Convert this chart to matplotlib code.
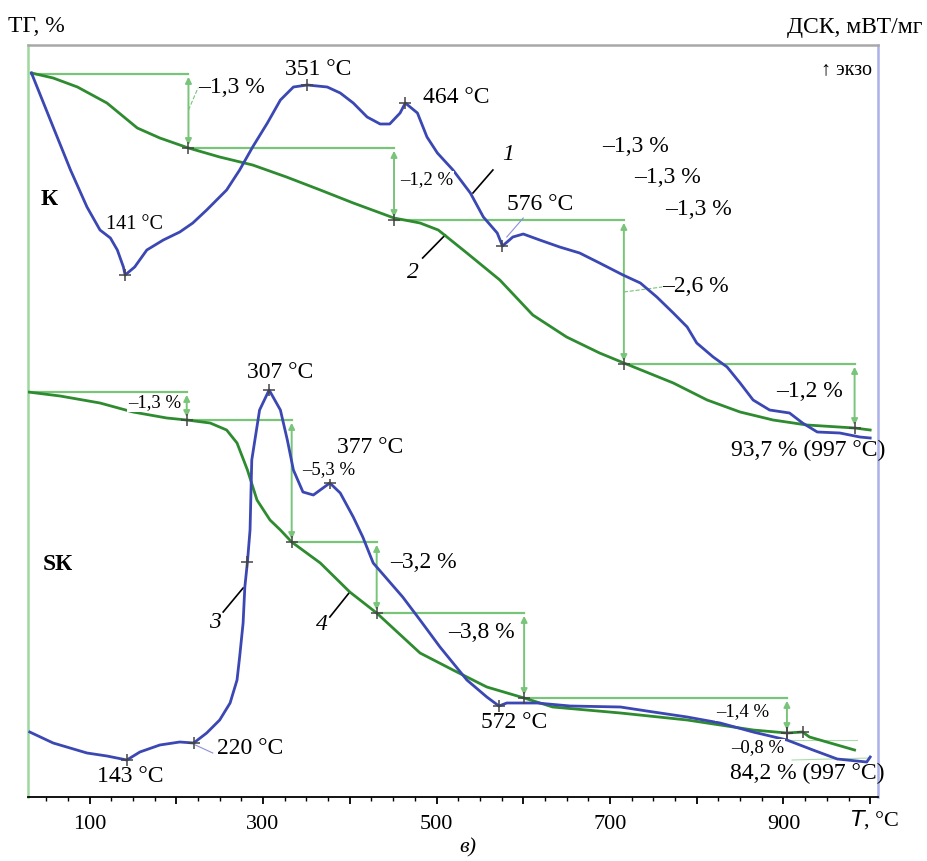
import matplotlib
matplotlib.use('Agg')
import matplotlib.pyplot as plt
from matplotlib.ticker import MultipleLocator, FixedLocator

plt.rcParams['font.family'] = ['Liberation Serif', 'DejaVu Serif']

# y has no scale on the original chart: relative units (0 = bottom axis)
# sample K, DSC (curve 1)
k_dsc_t = [33, 58, 78, 97, 112, 124, 132, 139, 141, 152, 166, 185, 204, 219, 235, 258, 273, 288, 305, 320,
           335, 351, 374, 389, 404, 420, 435, 446, 458, 464, 478, 489, 501, 519, 539, 554, 570, 576, 588, 600,
           619, 642, 665, 688, 715, 735, 754, 773, 789, 800, 819, 835, 850, 865, 884, 907, 922, 939, 965, 988, 1000]
k_dsc_y = [727, 673, 630, 593, 570, 562, 550, 533, 525, 533, 550, 560, 568, 577, 590, 610, 630, 653, 677, 700,
           713, 715, 713, 707, 697, 683, 676, 676, 687, 697, 687, 663, 647, 630, 607, 583, 567, 554, 563, 566,
           560, 553, 547, 537, 525, 517, 503, 487, 473, 457, 443, 433, 417, 400, 390, 387, 377, 368, 367, 363, 362]

# sample K, TG (curve 2)
k_tg_t = [33, 58, 86, 120, 155, 181, 214, 250, 288, 327, 366, 404, 451, 481, 502, 535, 573, 611, 650, 688,
          716, 773, 812, 850, 888, 927, 982, 1000]
k_tg_y = [727, 722, 713, 697, 672, 662, 652, 643, 635, 623, 610, 597, 582, 577, 570, 547, 520, 485, 463, 447,
          437, 417, 400, 388, 380, 375, 372, 370]

# sample SK, DSC (curve 3)
sk_dsc_t = [31, 58, 97, 120, 143, 158, 181, 204, 220, 235, 250, 262, 270, 273, 277, 279, 282, 285, 287, 296,
            307, 320, 328, 335, 346, 358, 377, 389, 404, 415, 427, 461, 481, 504, 535, 558, 572, 581, 616, 654,
            712, 750, 789, 827, 865, 904, 934, 962, 996, 1000]
sk_dsc_y = [68, 57, 47, 44, 40, 48, 55, 58, 57, 67, 80, 97, 120, 143, 177, 213, 238, 270, 340, 390,
            410, 390, 360, 330, 308, 305, 317, 307, 283, 263, 237, 203, 180, 153, 120, 103, 94, 97, 97, 94,
            93, 88, 83, 77, 68, 60, 50, 41, 38, 43]

# sample SK, TG (curve 4)
sk_tg_t = [29, 66, 112, 150, 189, 212, 239, 258, 270, 282, 293, 308, 320, 333, 366, 400, 431, 461, 481, 519,
           558, 601, 634, 712, 789, 865, 904, 922, 930, 982]
sk_tg_y = [408, 404, 397, 388, 382, 380, 377, 370, 357, 330, 300, 280, 270, 258, 237, 208, 187, 163, 147, 130,
           113, 102, 93, 87, 80, 70, 67, 68, 63, 50]

# mass-loss steps (TG levels)
k_step_t = [33, 214, 451, 716, 982]
k_step_y = [726, 652, 580, 436, 372]
sk_step_t = [29, 212, 333, 431, 601, 904]
sk_step_y = [408, 380, 258, 187, 102, 67]

# marked peaks on DSC curves
k_peak_t = [141, 351, 464, 576]
k_peak_y = [525, 715, 697, 554]
sk_peak_t = [143, 220, 282, 307, 377, 572]
sk_peak_y = [40, 57, 238, 410, 317, 94]
sk_tg_mark_t = [904, 922]
sk_tg_mark_y = [67, 68]

BLUE = '#3b47b3'
GREEN = '#2e8b30'
LGREEN = '#78c478'
MARK = '#444444'

fig = plt.figure(figsize=(9.28, 8.61), dpi=100)
ax = fig.add_axes([28 / 928, 1 - 797 / 861, 850 / 928, 752 / 861])
ax.set_xlim(29, 1009)
ax.set_ylim(3, 755)


def steps(ts, ys):
    for i in range(len(ts) - 1):
        ax.plot([ts[i], ts[i + 1]], [ys[i], ys[i]], color=LGREEN, lw=1.6, zorder=2)
        ax.annotate('', xy=(ts[i + 1], ys[i]), xytext=(ts[i + 1], ys[i + 1]),
                    arrowprops=dict(arrowstyle='<|-|>', color=LGREEN, lw=1.4,
                                    shrinkA=2, shrinkB=2, mutation_scale=9), zorder=2)


steps(k_step_t, k_step_y)
steps(sk_step_t, sk_step_y)
# faint end lines of SK
ax.plot([907, 985], [60, 60], color=LGREEN, lw=0.8, alpha=0.6)
ax.plot([910, 1000], [40, 42], color=LGREEN, lw=0.8, alpha=0.6)

ax.plot(k_tg_t, k_tg_y, color=GREEN, lw=2, zorder=3)
ax.plot(sk_tg_t, sk_tg_y, color=GREEN, lw=2, zorder=3)
ax.plot(k_dsc_t, k_dsc_y, color=BLUE, lw=2, zorder=4)
ax.plot(sk_dsc_t, sk_dsc_y, color=BLUE, lw=2, zorder=4)

# markers
mk = dict(ls='none', marker='+', color=MARK, ms=9, mew=1.1, zorder=5)
ax.plot(k_peak_t, k_peak_y, **mk)
ax.plot(sk_peak_t, sk_peak_y, **mk)
ax.plot(k_step_t[1:], k_step_y[1:], **mk)
ax.plot(sk_step_t[1:], sk_step_y[1:], **mk)
ax.plot(sk_tg_mark_t, sk_tg_mark_y, **mk)

BIG = 17
SMALL = 13.5
wb = dict(facecolor='white', edgecolor='none', pad=0.5)

# temperatures
ax.text(364, 730, '351 °C', fontsize=BIG, ha='center', va='center')
ax.text(484, 702, '464 °C', fontsize=BIG, ha='left', va='center')
ax.text(152, 575, '141 °C', fontsize=SMALL + 1, ha='center', va='center')
ax.text(619, 595, '576 °C', fontsize=BIG, ha='center', va='center')
ax.plot([581, 600], [563, 582], color='#8a90d8', lw=0.8)
ax.text(320, 427, '307 °C', fontsize=BIG, ha='center', va='center')
ax.text(423, 352, '377 °C', fontsize=BIG, ha='center', va='center')
ax.text(147, 23, '143 °C', fontsize=BIG, ha='center', va='center')
ax.text(247, 52, '220 °C', fontsize=BIG, ha='left', va='center')
ax.plot([222, 242], [55, 47], color='#8a90d8', lw=0.8)
ax.text(590, 78, '572 °C', fontsize=BIG, ha='center', va='center')

# mass losses
ax.text(225, 712, '–1,3 %', fontsize=BIG, ha='left', va='center')
ax.plot([214, 225], [690, 712], color=LGREEN, lw=0.8, ls='--')
ax.text(458, 620, '–1,2 %', fontsize=SMALL, ha='left', va='center', bbox=wb, zorder=6)
ax.text(760, 513, '–2,6 %', fontsize=BIG, ha='left', va='center')
ax.plot([716, 760], [508, 513], color=LGREEN, lw=0.8, ls='--')
ax.text(892, 408, '–1,2 %', fontsize=BIG, ha='left', va='center')
ax.text(928, 350, '93,7 % (997 °C)', fontsize=BIG, ha='center', va='center')
ax.text(729, 653, '–1,3 %', fontsize=BIG, ha='center', va='center')
ax.text(766, 622, '–1,3 %', fontsize=BIG, ha='center', va='center')
ax.text(802, 590, '–1,3 %', fontsize=BIG, ha='center', va='center')

ax.text(175, 397, '–1,3 %', fontsize=SMALL, ha='center', va='center', bbox=wb, zorder=6)
ax.text(345, 330, '–5,3 %', fontsize=SMALL, ha='left', va='center', bbox=wb, zorder=6)
ax.text(446, 237, '–3,2 %', fontsize=BIG, ha='left', va='center')
ax.text(513, 168, '–3,8 %', fontsize=BIG, ha='left', va='center')
ax.text(853, 88, '–1,4 %', fontsize=SMALL, ha='center', va='center', bbox=wb, zorder=6)
ax.text(870, 52, '–0,8 %', fontsize=SMALL, ha='center', va='center', bbox=wb, zorder=6)
ax.text(928, 27, '84,2 % (997 °C)', fontsize=BIG, ha='center', va='center')

# sample names and curve numbers
ax.text(53, 600, 'К', fontsize=BIG, fontweight='bold', ha='center', va='center')
ax.text(63, 235, 'SК', fontsize=BIG, fontweight='bold', ha='center', va='center')
ax.text(1002, 730, '↑ экзо', fontsize=SMALL + 1, ha='right', va='center',
        family=['Liberation Serif', 'DejaVu Sans'])
for num, (tx, ty), (x0, y0, x1, y1) in [('1', (582, 645), (565, 630, 542, 607)),
                                        ('2', (473, 527), (484, 542, 510, 565)),
                                        ('3', (245, 178), (254, 188, 277, 212)),
                                        ('4', (368, 175), (377, 183, 400, 208))]:
    ax.text(tx, ty, num, fontsize=BIG, style='italic', ha='center', va='center')
    ax.plot([x0, x1], [y0, y1], color='black', lw=1.2)

# axes styling
for side, col in [('left', '#9fd89f'), ('top', '#a8a8a8'), ('right', '#aab0e8'), ('bottom', 'black')]:
    ax.spines[side].set_color(col)
    ax.spines[side].set_linewidth(1.8 if side != 'bottom' else 1.3)
ax.set_yticks([])
ax.xaxis.set_major_locator(FixedLocator(range(100, 1001, 100)))
ax.set_xticklabels(['100', '', '300', '', '500', '', '700', '', '900', ''])
ax.xaxis.set_minor_locator(MultipleLocator(25))
ax.tick_params(axis='x', which='major', direction='out', length=5, width=1.3, labelsize=16, pad=8)
ax.tick_params(axis='x', which='minor', direction='out', length=3, width=1.0)

fig.text(8 / 928, 1 - 27 / 861, 'ТГ, %', fontsize=BIG, ha='left', va='center')
fig.text(922 / 928, 1 - 27 / 861, 'ДСК, мВТ/мг', fontsize=BIG, ha='right', va='center')
fig.text(850 / 928, 1 - 820 / 861, '$T$, °C', fontsize=16, ha='left', va='center')
fig.text(468 / 928, 1 - 848 / 861, 'в)', fontsize=16, style='italic', ha='center', va='center')

plt.savefig('out.png', dpi=100)
plt.close()
